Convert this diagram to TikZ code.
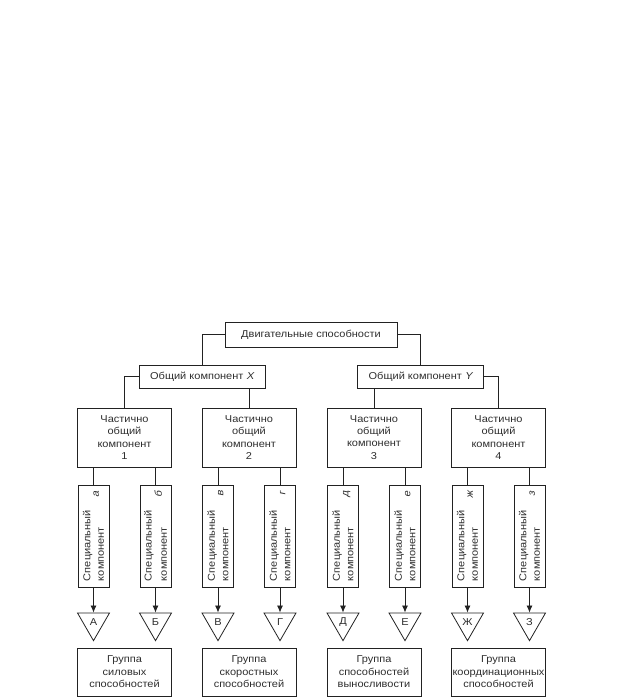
\documentclass[tikz,border=0pt]{standalone}
\usepackage{fontspec}
\setmainfont{Liberation Sans}[FakeStretch=1.1]
\newfontface\oblique{Liberation Sans}[FakeStretch=1.1,FakeSlant=0.2]
\usetikzlibrary{shapes.geometric,arrows.meta}
\definecolor{linec}{HTML}{222222}
\definecolor{textc}{HTML}{2E2E2E}
\newcommand{\spec}[1]{\rotatebox{90}{\parbox{90pt}{\baselineskip=13.5pt Специальный\\\makebox[90pt][s]{компонент\hfill\raisebox{5pt}{\oblique #1}}}}}
\begin{document}
\begin{tikzpicture}[x=1pt,y=-1pt,
  font=\fontsize{10}{12.2}\selectfont,
  box/.style={draw=linec, line width=0.8pt, text=textc, align=center, inner sep=0pt},
  topbox/.style={box, minimum width=172, minimum height=25},
  combox/.style={box, minimum width=126, minimum height=23},
  partbox/.style={box, minimum width=94, minimum height=59},
  specbox/.style={box, minimum width=31, minimum height=102},
  groupbox/.style={box, minimum width=94, minimum height=48, font=\fontsize{10}{12.5}\selectfont},
  tri/.style={draw=linec, line width=0.8pt, text=textc, regular polygon, regular polygon sides=3,
    shape border rotate=180, minimum size=36.95, inner sep=0pt},
  conn/.style={draw=linec, line width=0.8pt},
  arr/.style={conn, -{Latex[length=7pt,width=6pt]}}
]
\useasboundingbox (0,0) rectangle (624,700);

\node[topbox] (top) at (311,334.5) {Двигательные способности};
\node[combox] (X) at (202,376.5) {Общий компонент {\oblique X}};
\node[combox] (Y) at (420.5,376.5) {Общий компонент {\oblique Y}};

\node[partbox] (P1) at (124.5,437.5) {Частично\\общий\\компонент\\1};
\node[partbox] (P2) at (249,437.5) {Частично\\общий\\компонент\\2};
\node[partbox] (P3) at (374,437.5) {Частично\\общий\\компонент\\3};
\node[partbox] (P4) at (498.5,437.5) {Частично\\общий\\компонент\\4};

\node[specbox] (S1) at (93.5,536) {\spec{а}};
\node[specbox] (S2) at (155.5,536) {\spec{б}};
\node[specbox] (S3) at (218,536) {\spec{в}};
\node[specbox] (S4) at (280,536) {\spec{г}};
\node[specbox] (S5) at (343,536) {\spec{д}};
\node[specbox] (S6) at (405,536) {\spec{е}};
\node[specbox] (S7) at (467.5,536) {\spec{ж}};
\node[specbox] (S8) at (529.5,536) {\spec{з}};

\node[tri] (T1) at (93.5,622.2) {А};
\node[tri] (T2) at (155.5,622.2) {Б};
\node[tri] (T3) at (218,622.2) {В};
\node[tri] (T4) at (280,622.2) {Г};
\node[tri] (T5) at (343,622.2) {Д};
\node[tri] (T6) at (405,622.2) {Е};
\node[tri] (T7) at (467.5,622.2) {Ж};
\node[tri] (T8) at (529.5,622.2) {З};

\node[groupbox] (G1) at (124.5,672) {Группа\\силовых\\способностей};
\node[groupbox] (G2) at (249,672) {Группа\\скоростных\\способностей};
\node[groupbox] (G3) at (374,672) {Группа\\способностей\\выносливости};
\node[groupbox] (G4) at (498.5,672) {Группа\\координационных\\способностей};

\draw[conn] (top.west) -| (X.north);
\draw[conn] (top.east) -| (Y.north);
\draw[conn] (X.west) -| (P1.north);
\draw[conn] (X.south -| P2.north) -- (P2.north);
\draw[conn] (Y.south -| P3.north) -- (P3.north);
\draw[conn] (Y.east) -| (P4.north);

\draw[conn] (P1.south -| S1.north) -- (S1.north);
\draw[conn] (P1.south -| S2.north) -- (S2.north);
\draw[conn] (P2.south -| S3.north) -- (S3.north);
\draw[conn] (P2.south -| S4.north) -- (S4.north);
\draw[conn] (P3.south -| S5.north) -- (S5.north);
\draw[conn] (P3.south -| S6.north) -- (S6.north);
\draw[conn] (P4.south -| S7.north) -- (S7.north);
\draw[conn] (P4.south -| S8.north) -- (S8.north);

\foreach \i in {1,...,8} {
  \draw[arr] (S\i.south) -- (T\i.side 2);
}
\end{tikzpicture}
\end{document}
